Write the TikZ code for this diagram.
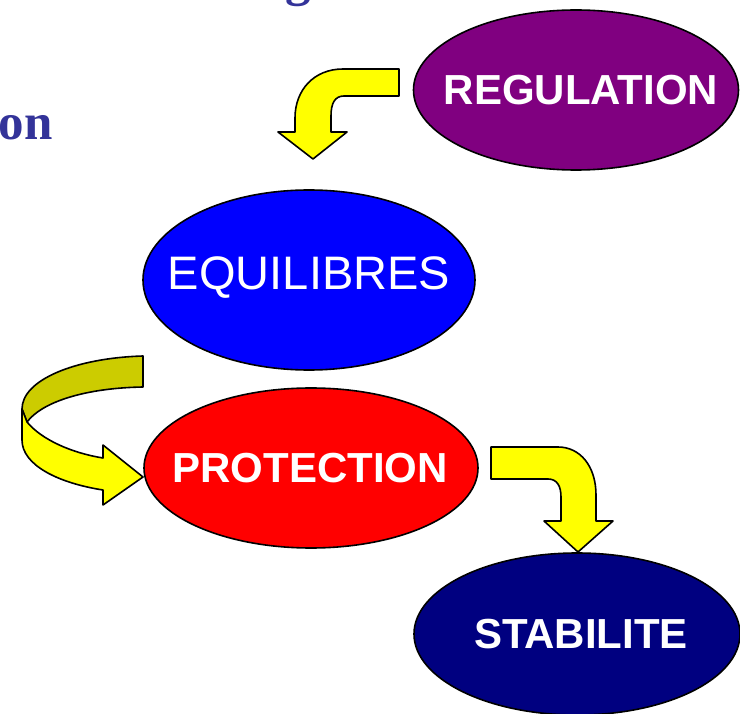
\documentclass[tikz,border=0pt]{standalone}
\usepackage{fontspec}
\setmainfont{Liberation Sans}
\newfontfamily\titleserif{Liberation Serif}
\usetikzlibrary{shapes.geometric}
\definecolor{regpurple}{HTML}{800080}
\definecolor{eqblue}{HTML}{0000FF}
\definecolor{protred}{HTML}{FF0000}
\definecolor{stabnavy}{HTML}{000080}
\definecolor{arrowyellow}{HTML}{FFFF00}
\definecolor{arrowolive}{HTML}{CCCC00}
\definecolor{titleblue}{HTML}{333399}
\begin{document}
\begin{tikzpicture}[x=1pt,y=-1pt,
  bubble/.style={ellipse,draw=black,line width=1.6pt,inner sep=0pt},
  caption/.style={text=white,inner sep=0pt},
  boldlabel/.style={font=\fontsize{42}{42}\selectfont\bfseries},
  plainlabel/.style={font=\fontsize{47}{47}\selectfont},
  blockarrow/.style={draw=black,line width=1.6pt,line join=round,fill=arrowyellow},
  fragment/.style={text=titleblue,font=\titleserif\fontsize{51}{51}\selectfont\bfseries,inner sep=0pt}]
\useasboundingbox (0,0) rectangle (740,714);
\clip (0,0) rectangle (740,714);
\fill[white] (0,0) rectangle (740,714);

% title fragments running off the page
\node[fragment,anchor=base east] (titleon) at (53,140) {on};
\node[fragment,anchor=base] (titleg) at (298,-4) {g};

% the four stages
\node[bubble,fill=regpurple,minimum width=325pt,minimum height=160pt] (regulation) at (576,90) {};
\node[bubble,fill=eqblue,minimum width=332pt,minimum height=180pt] (equilibres) at (309,280) {};
\node[bubble,fill=protred,minimum width=334pt,minimum height=160pt] (protection) at (311,468) {};
\node[bubble,fill=stabnavy,minimum width=326pt,minimum height=162pt] (stabilite) at (577,634) {};

\node[caption,boldlabel] (regulationtext) at ([xshift=5pt]regulation.center) {REGULATION};
\node[caption,plainlabel] (equilibrestext) at ([yshift=2pt]equilibres.center) {EQUILIBRES};
\node[caption,boldlabel] (protectiontext) at ([xshift=-1pt]protection.center) {PROTECTION};
\node[caption,boldlabel] (stabilitetext) at ([xshift=4pt]stabilite.center) {STABILITE};

% bent arrow: regulation -> equilibres
\draw[blockarrow] (399,69) -- (343,69) .. controls (314,69) and (295,90) .. (295,118)
  -- (295,132) -- (278,132) -- (313,159) -- (347,132) -- (331,132) -- (331,116)
  .. controls (331,103) and (335,96) .. (344,96) -- (399,96) -- cycle;

% curled arrow: equilibres -> protection (back face, then front face)
\draw[blockarrow,fill=arrowolive] (143,356) .. controls (75,358) and (22,380) .. (22,409)
  -- (27,422) .. controls (42,402) and (85,388) .. (143,387) -- cycle;
\draw[blockarrow] (22,409) -- (27,422) .. controls (42,440) and (72,453) .. (103,458)
  -- (103,445) -- (143,477) -- (103,505) -- (103,490)
  .. controls (58,483) and (22,465) .. (22,440) -- cycle;

% bent arrow: protection -> stabilite
\draw[blockarrow] (491,447) -- (558,447) .. controls (580,447) and (596,466) .. (596,495)
  -- (596,521) -- (613,521) -- (578,552) -- (544,521) -- (561,521) -- (561,497)
  .. controls (561,486) and (557,479) .. (548,479) -- (491,479) -- cycle;
\end{tikzpicture}
\end{document}
